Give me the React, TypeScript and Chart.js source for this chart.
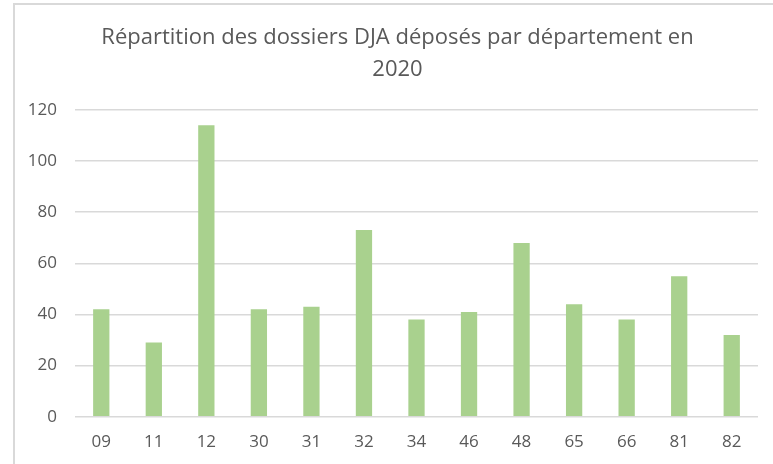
import React, { useEffect, useRef } from "react";
import { Chart, registerables } from "chart.js";

Chart.register(...registerables);

const categories = ["09", "11", "12", "30", "31", "32", "34", "46", "48", "65", "66", "81", "82"];
const dossiers = [42, 29, 114, 42, 43, 73, 38, 41, 68, 44, 38, 55, 32];
const yMin = 0;
const yMax = 120;
const yStep = 20;
const titleLines = ["Répartition des dossiers DJA déposés par département en", "2020"];

const FONT = "'Open Sans', 'Noto Sans', sans-serif";
const TEXT = "#595959";
const GRID = "#d9d9d9";
const BAR = "#a9d18e";

// Centre the title over the whole chart frame (which runs past the window's right edge)
const titleCenterPlugin = {
  id: "titleCenter",
  afterLayout(chart: any) {
    const t = chart.titleBlock;
    if (t) {
      t.left = 37;
      t.right = 758;
      t.width = 721;
    }
  },
};

export default function App() {
  const ref = useRef<HTMLCanvasElement | null>(null);

  useEffect(() => {
    if (!ref.current) return;
    const chart = new Chart(ref.current, {
      type: "bar",
      data: {
        labels: categories,
        datasets: [
          {
            data: dossiers,
            backgroundColor: BAR,
            borderWidth: 0,
            categoryPercentage: 1,
            barPercentage: 0.31,
          },
        ],
      },
      options: {
        responsive: false,
        animation: false,
        devicePixelRatio: 1,
        layout: { padding: { left: 0, right: 15, top: 0, bottom: 0 } },
        plugins: {
          legend: { display: false },
          tooltip: { enabled: false },
          title: {
            display: true,
            text: titleLines,
            color: TEXT,
            font: { family: FONT, size: 22, weight: "normal", lineHeight: "32px" },
            padding: { top: 22, bottom: 24 },
          },
        },
        scales: {
          x: {
            grid: { display: false, drawTicks: false },
            border: { display: false },
            ticks: { color: TEXT, font: { family: FONT, size: 17 }, padding: 15, maxRotation: 0 },
            afterFit: (s: any) => {
              s.height = 47.3;
            },
          },
          y: {
            min: yMin,
            max: yMax,
            grid: { color: GRID, lineWidth: 1.5, drawTicks: false },
            border: { display: false },
            ticks: { stepSize: yStep, color: TEXT, font: { family: FONT, size: 17 }, padding: 18 },
            afterFit: (s: any) => {
              s.width = 75;
            },
          },
        },
      },
      plugins: [titleCenterPlugin],
    });
    return () => chart.destroy();
  }, []);

  return (
    <div
      style={{
        position: "absolute",
        left: 0,
        top: 0,
        width: 773,
        height: 464,
        overflow: "hidden",
        background: "#fff",
      }}
    >
      <div
        style={{
          position: "absolute",
          left: 13,
          top: 3,
          width: 900,
          height: 600,
          borderLeft: "2px solid #d9d9d9",
          borderTop: "2px solid #d9d9d9",
        }}
      />
      <canvas ref={ref} width={773} height={464} style={{ position: "absolute", left: 0, top: 0, display: "block" }} />
    </div>
  );
}
